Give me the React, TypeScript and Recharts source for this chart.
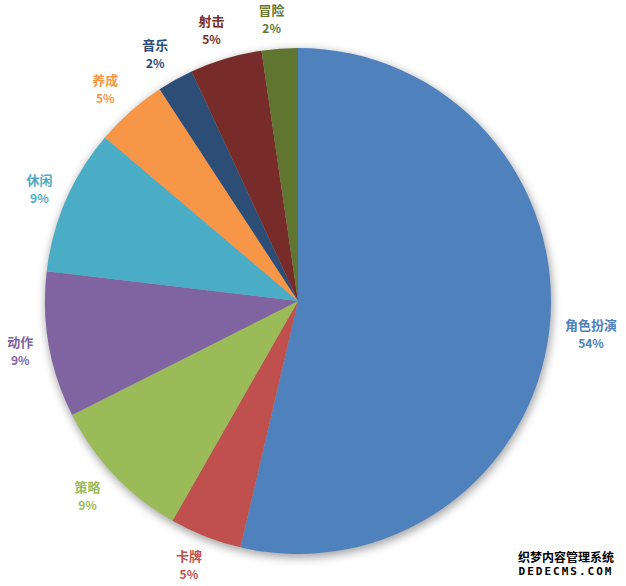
import React from "react";
import { PieChart, Pie, Cell } from "recharts";

const categories = ["角色扮演", "卡牌", "策略", "动作", "休闲", "养成", "音乐", "射击", "冒险"];
const shares = [53.6, 4.6, 9.3, 9.3, 9.3, 4.6, 2.3, 4.6, 2.3];
const colors = ["#4F81BD", "#C0504D", "#9BBB59", "#8064A2", "#4BACC6", "#F79646", "#2C4D75", "#772C2A", "#5F7530"];

const data = categories.map((name, i) => ({ name, value: shares[i] }));
const total = shares.reduce((a, b) => a + b, 0);

const CX = 298;
const CY = 301;
const R = 253;
const FONT = "'Noto Sans CJK SC', 'Microsoft YaHei', sans-serif";

const renderLabel = (props: any) => {
  const { cx, cy, midAngle, outerRadius, index, value } = props;
  const rad = (-midAngle * Math.PI) / 180;
  const dx = Math.cos(rad);
  const dy = Math.sin(rad);
  const gap = 16;
  const ax = cx + (outerRadius + gap) * dx;
  const ay = cy + (outerRadius + gap) * dy;
  const name = categories[index];
  const pct = Math.round((value / total) * 100) + "%";
  const hw = Math.max(name.length * 13, pct.length * 8) / 2;
  const hh = 14;
  const x = ax + hw * dx + (dx < 0 && dx > -0.8 ? -6 : 0);
  const y = ay + hh * dy;
  const color = colors[index];
  return (
    <g>
      <text x={x} y={y - 9} textAnchor="middle" dominantBaseline="central" fill={color}
        style={{ fontFamily: FONT, fontSize: 13, fontWeight: 700 }}>{name}</text>
      <text x={x} y={y + 9} textAnchor="middle" dominantBaseline="central" fill={color}
        style={{ fontFamily: FONT, fontSize: 12, fontWeight: 700 }}>{pct}</text>
    </g>
  );
};

export default function App() {
  return (
    <div style={{ position: "absolute", left: 0, top: 0, width: 626, height: 586, background: "#fff" }}>
      <PieChart width={626} height={586} margin={{ top: 0, right: 0, bottom: 0, left: 0 }}>
        <defs>
          <filter id="pieShadow" x="-20%" y="-20%" width="140%" height="140%">
            <feGaussianBlur stdDeviation="4" />
          </filter>
        </defs>
        <Pie
          data={[{ name: "shadow", value: 1 }]}
          dataKey="value"
          cx={CX + 1}
          cy={CY + 3}
          outerRadius={R + 1}
          startAngle={90}
          endAngle={-270}
          isAnimationActive={false}
          stroke="none"
          label={false}
          labelLine={false}
        >
          <Cell fill="#000" fillOpacity={0.35} style={{ filter: "url(#pieShadow)" }} />
        </Pie>
        <Pie
          data={data}
          dataKey="value"
          cx={CX}
          cy={CY}
          outerRadius={R}
          startAngle={90}
          endAngle={-270}
          isAnimationActive={false}
          stroke="none"
          label={renderLabel}
          labelLine={false}
        >
          {data.map((d, i) => (
            <Cell key={d.name} fill={colors[i]} />
          ))}
        </Pie>
      </PieChart>
      <div style={{ position: "absolute", left: 514, top: 549, width: 104, textAlign: "center", fontFamily: FONT, fontWeight: 700, color: "#000", lineHeight: "15px", textShadow: "1px 0 #fff, -1px 0 #fff, 0 1px #fff, 0 -1px #fff" }}>
        <div style={{ fontSize: 12 }}>织梦内容管理系统</div>
        <div style={{ fontSize: 11, letterSpacing: 2, fontFamily: "'DejaVu Sans Mono', monospace" }}>DEDECMS.COM</div>
      </div>
    </div>
  );
}
